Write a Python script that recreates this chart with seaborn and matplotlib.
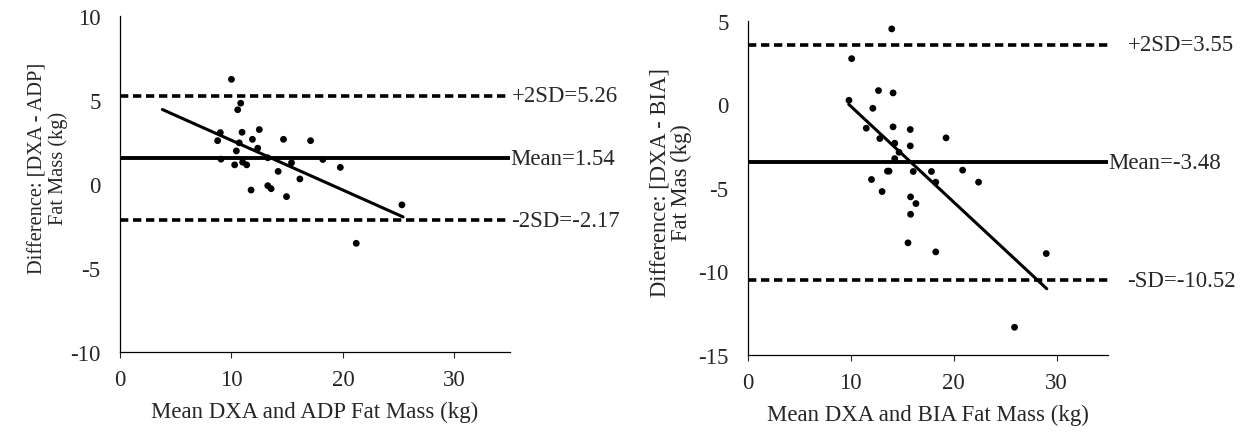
import numpy as np
import pandas as pd
import seaborn as sns
import matplotlib.pyplot as plt

# DXA vs ADP (left panel)
adp_mean = [10.0, 10.83, 10.56, 9.0, 8.76, 10.95, 12.5, 11.88, 14.67, 17.1,
            10.7, 10.44, 12.36, 9.06, 10.29, 11.0, 11.37, 13.26, 15.39, 18.2,
            19.77, 14.19, 16.14, 11.76, 13.26, 13.56, 14.94, 21.2, 25.3]
adp_diff = [6.23, 4.81, 4.42, 3.06, 2.58, 3.08, 3.24, 2.66, 2.66, 2.58,
            2.45, 1.97, 2.13, 1.48, 1.14, 1.30, 1.14, 1.56, 1.26, 1.46,
            0.99, 0.75, 0.30, -0.36, -0.10, -0.28, -0.75, -3.53, -1.24]
adp_stats = {"+2SD=5.26": 5.26, "Mean=1.54": 1.54, "-2SD=-2.17": -2.17}
adp_trend_x = [3.8, 25.4]
adp_slope, adp_icpt = -0.296, 5.56

# DXA vs BIA (right panel)
bia_mean = [13.98, 10.08, 9.82, 12.69, 14.11, 12.14, 11.5, 14.11, 15.78, 19.26,
            12.82, 14.27, 15.78, 14.69, 14.27, 13.56, 13.72, 16.07, 17.84, 20.87,
            12.01, 18.26, 22.42, 13.04, 15.81, 16.33, 15.81, 15.56, 18.26, 29.0,
            25.92]
bia_diff = [4.51, 2.73, 0.24, 0.82, 0.68, -0.24, -1.43, -1.35, -1.51, -2.01,
            -2.05, -2.33, -2.49, -2.87, -3.25, -4.0, -4.0, -4.02, -4.02, -3.94,
            -4.5, -4.66, -4.66, -5.22, -5.54, -5.94, -6.58, -8.29, -8.83, -8.93,
            -13.34]
bia_stats = {"+2SD=3.55": 3.55, "Mean=-3.48": -3.48, "-SD=-10.52": -10.52}
bia_trend_x = [9.8, 29.05]
bia_slope, bia_icpt = -0.573, 5.61

sns.set_style("white")
plt.rcParams['font.family'] = ['Liberation Serif', 'DejaVu Serif']
plt.rcParams['axes.unicode_minus'] = False
FS = 16.5

fig = plt.figure(figsize=(12.4, 4.35), dpi=100)
ax1 = fig.add_axes([0.0968, 0.1885, 0.3145, 0.7724])
ax2 = fig.add_axes([0.6032, 0.1816, 0.2903, 0.7685])


def bland_altman(ax, xs, ys, stats, tx, slope, icpt, ylim, yticks, xlabel, ylabel,
                 sd_gap, yl_fs, yl_xy):
    df = pd.DataFrame({"m": xs, "d": ys})
    sns.scatterplot(data=df, x="m", y="d", ax=ax, color="black", s=24,
                    edgecolor="none", zorder=3)
    tr = pd.DataFrame({"x": tx, "y": [icpt + slope * v for v in tx]})
    sns.lineplot(data=tr, x="x", y="y", ax=ax, color="black", lw=2.2)
    for lab, v in stats.items():
        if lab.startswith("Mean"):
            ax.axhline(v, color="black", lw=2.8)
            off = 0
        else:
            ax.axhline(v, color="black", lw=2.6, ls=(0, (2.3, 1.3)))
            off = sd_gap
        ax.annotate(lab, xy=(1.0, v), xycoords=("axes fraction", "data"),
                    xytext=(off, 0), textcoords="offset points",
                    va="center", ha="left", fontsize=FS)
    ax.set_xlim(0, 35)
    ax.set_ylim(*ylim)
    ax.set_xticks([0, 10, 20, 30])
    ax.set_yticks(yticks)
    ax.tick_params(axis="x", direction="out", length=4, width=0.8, pad=8,
                   labelsize=FS, bottom=True)
    ax.tick_params(axis="y", length=0, pad=14, labelsize=FS)
    ax.set_xlabel(xlabel, fontsize=FS, labelpad=8)
    ax.set_ylabel(ylabel, fontsize=yl_fs, linespacing=1.05)
    ax.yaxis.set_label_coords(*yl_xy)
    sns.despine(ax=ax)
    for sp in ("left", "bottom"):
        ax.spines[sp].set_color("black")
        ax.spines[sp].set_linewidth(0.9)


bland_altman(ax1, adp_mean, adp_diff, adp_stats, adp_trend_x, adp_slope, adp_icpt,
             (-10, 10), [-10, -5, 0, 5, 10], "Mean DXA and ADP Fat Mass (kg)",
             "Difference: [DXA - ADP]\nFat Mass (kg)", 1, 14.7, (-0.133, 0.55))
bland_altman(ax2, bia_mean, bia_diff, bia_stats, bia_trend_x, bia_slope, bia_icpt,
             (-15, 5), [-15, -10, -5, 0, 5], "Mean DXA and BIA Fat Mass (kg)",
             "Difference: [DXA - BIA]\nFat Mas (kg)", 14, 16.3, (-0.155, 0.52))

fig.savefig("out.png", dpi=100)
